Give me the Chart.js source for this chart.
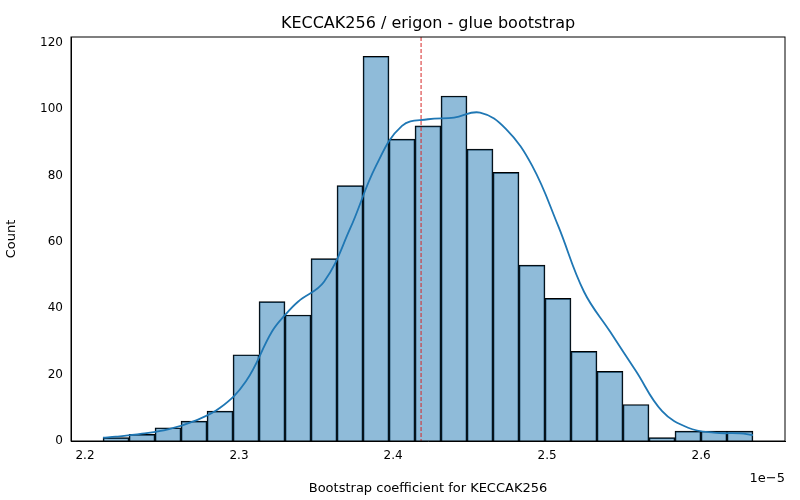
<!DOCTYPE html>
<html>
<head>
<meta charset="utf-8">
<script src="https://cdn.jsdelivr.net/npm/chart.js@4"></script>
<style>
  body { margin: 0; background: #fff; }
  #wrap { width: 800px; height: 500px; }
</style>
</head>
<body>
<div id="wrap"><canvas id="c" width="800" height="500"></canvas></div>
<script>
// values in units of 1e-5
const binStart = 2.2117;
const binWidth = 0.01688;
const counts = [1, 2, 4, 6, 9, 26, 42, 38, 55, 77, 116, 91, 95, 104, 88, 81, 53, 43, 27, 21, 11, 1, 3, 3, 3];
const kdeX = [2.2117, 2.2201, 2.2370, 2.2539, 2.2708, 2.2877, 2.3045, 2.3214, 2.3299, 2.3383, 2.3552, 2.3721, 2.3890, 2.4058, 2.4227, 2.4396, 2.4565, 2.4734, 2.4903, 2.5071, 2.5240, 2.5409, 2.5578, 2.5747, 2.5916, 2.6084, 2.6253, 2.6337];
const kdeY = [1, 1.3, 2.2, 3.5, 6, 10, 18, 33, 38, 42, 48, 64, 83, 95, 97, 97.5, 99, 94, 83, 65, 45, 33, 21, 9, 4, 2.5, 2.3, 1.8];
const meanValue = 2.4182;
const xTicks = [2.2, 2.3, 2.4, 2.5, 2.6];
const yTicks = [0, 20, 40, 60, 80, 100, 120];

const barData = counts.map((c, i) => ({ x: binStart + binWidth * (i + 0.5), y: c }));
const kdeData = kdeX.map((x, i) => ({ x: x, y: kdeY[i] }));

const frame = {
  id: 'frame',
  afterDraw(chart) {
    const { ctx, chartArea: a, scales } = chart;
    ctx.save();
    // mean line
    const mx = scales.x.getPixelForValue(meanValue);
    ctx.strokeStyle = '#d62728';
    ctx.lineWidth = 1;
    ctx.setLineDash([4, 2]);
    ctx.beginPath(); ctx.moveTo(mx, a.top); ctx.lineTo(mx, a.bottom); ctx.stroke();
    ctx.setLineDash([]);
    ctx.strokeStyle = '#000';
    ctx.strokeRect(a.left, a.top, a.right - a.left, a.bottom - a.top);
    ctx.fillStyle = '#000';
    ctx.font = '16px "DejaVu Sans"';
    ctx.textAlign = 'center';
    ctx.fillText('KECCAK256 / erigon - glue bootstrap', (a.left + a.right) / 2, 28);
    ctx.font = '13px "DejaVu Sans"';
    ctx.textAlign = 'right';
    ctx.fillText('1e\u22125', a.right, 482);
    ctx.restore();
  }
};

new Chart(document.getElementById('c'), {
  type: 'bar',
  data: {
    datasets: [
      {
        type: 'line',
        data: kdeData,
        borderColor: '#1f77b4',
        borderWidth: 1.8,
        pointRadius: 0,
        tension: 0.4,
        fill: false
      },
      {
        data: barData,
        backgroundColor: 'rgba(31,119,180,0.5)',
        borderColor: '#000',
        borderWidth: 1,
        barPercentage: 1,
        categoryPercentage: 1
      }
    ]
  },
  options: {
    responsive: false,
    animation: false,
    layout: { padding: { top: 37, right: 15, left: 0, bottom: 0 } },
    plugins: { legend: { display: false }, tooltip: { enabled: false }, title: { display: false } },
    scales: {
      x: {
        type: 'linear',
        min: 2.1909,
        max: 2.6545,
        offset: false,
        grid: { display: false, drawTicks: true, tickLength: 5, tickColor: '#000' },
        border: { color: '#000' },
        afterBuildTicks: s => { s.ticks = xTicks.map(v => ({ value: v })); },
        ticks: { color: '#000', font: { family: 'DejaVu Sans', size: 12 }, maxRotation: 0, callback: v => v.toFixed(1) },
        title: { display: true, text: 'Bootstrap coefficient for KECCAK256', color: '#000', font: { family: 'DejaVu Sans', size: 13 } },
        afterFit: s => { s.height = 59; }
      },
      y: {
        min: 0,
        max: 121.8,
        grid: { display: false, drawTicks: true, tickLength: 5, tickColor: '#000' },
        border: { color: '#000' },
        afterBuildTicks: s => { s.ticks = yTicks.map(v => ({ value: v })); },
        ticks: { color: '#000', font: { family: 'DejaVu Sans', size: 12 } },
        title: { display: true, text: 'Count', color: '#000', font: { family: 'DejaVu Sans', size: 13 } },
        afterFit: s => { s.width = 71; }
      }
    }
  },
  plugins: [frame]
});
</script>
</body>
</html>
